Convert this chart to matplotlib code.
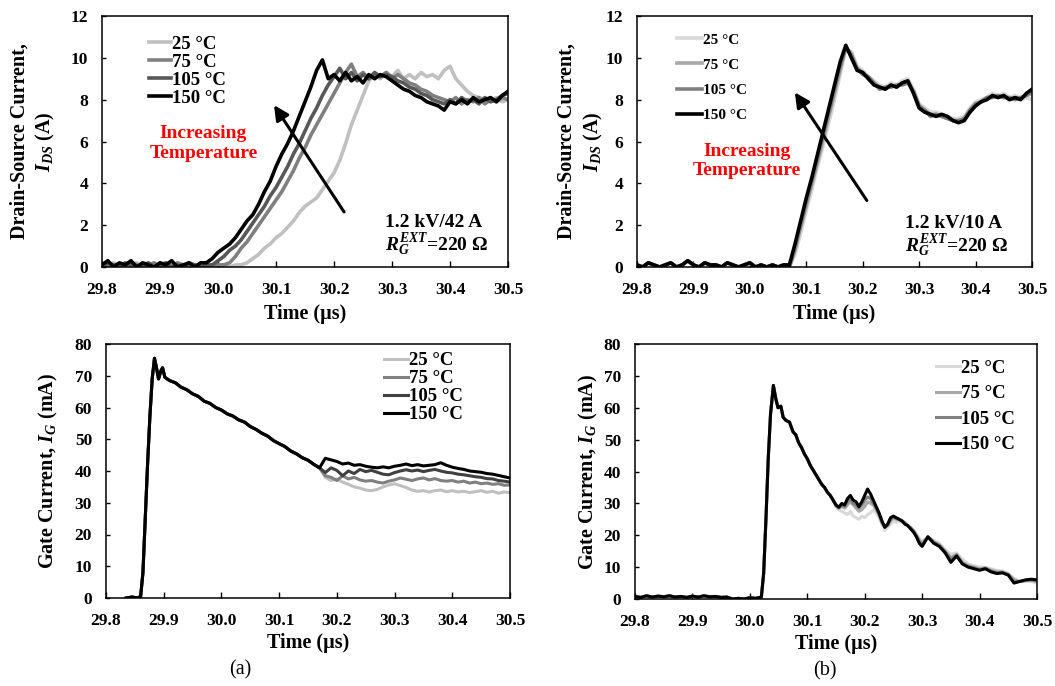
import numpy as np
import matplotlib
matplotlib.use("Agg")
import matplotlib.pyplot as plt

plt.rcParams['font.family'] = ['Liberation Serif', 'DejaVu Serif']
plt.rcParams['font.weight'] = 'bold'
plt.rcParams['axes.labelweight'] = 'bold'
plt.rcParams['mathtext.fontset'] = 'custom'
plt.rcParams['mathtext.rm'] = 'Liberation Serif:bold'
plt.rcParams['mathtext.it'] = 'Liberation Serif:italic:bold'
plt.rcParams['mathtext.bf'] = 'Liberation Serif:bold'

temps = ['25 °C', '75 °C', '105 °C', '150 °C']
xticks = [29.8, 29.9, 30.0, 30.1, 30.2, 30.3, 30.4, 30.5]

# scope sample clock, 10 ns steps
t_ids = np.linspace(29.8, 30.5, 71)

# (a) drain-source current, 1.2 kV / 42 A
ids_a_25 = [0.1, 0.0, 0.2, 0.1, 0.0, 0.1, 0.2, 0.0, 0.1, 0.0, 0.2, 0.0, 0.1, 0.1, 0.0, 0.2, 0.0, 0.1,
            0.0, 0.1,
            0.0, 0.1, 0.0, 0.1, 0.1, 0.2, 0.4, 0.6, 0.9, 1.1,
            1.4, 1.6, 1.9, 2.2, 2.6, 2.9, 3.1, 3.3, 3.7, 4.1,
            4.5, 5.1, 5.9, 6.8, 7.5, 8.2, 8.9, 9.2, 9.0, 9.3,
            9.1, 9.4, 9.0, 9.2, 9.0, 9.3, 9.1, 9.2, 9.0, 9.4,
            9.6, 9.0, 8.7, 8.4, 8.2, 8.1, 8.0, 7.9, 8.1, 7.9, 8.0]
ids_a_75 = [0.2, 0.0, 0.1, 0.1, 0.0, 0.2, 0.1, 0.0, 0.1, 0.2, 0.0, 0.1, 0.0, 0.2, 0.1, 0.0, 0.1, 0.0,
            0.0, 0.1,
            0.1, 0.1, 0.2, 0.5, 0.9, 1.2, 1.6, 2.0, 2.4, 2.8,
            3.2, 3.6, 4.1, 4.6, 5.2, 5.7, 6.3, 6.8, 7.3, 7.8,
            8.3, 8.8, 9.3, 9.7, 9.1, 9.3, 9.0, 9.2, 9.1, 9.3,
            9.0, 9.2, 9.0, 8.8, 8.7, 8.5, 8.4, 8.2, 8.1, 8.0,
            7.9, 8.1, 7.8, 8.0, 7.9, 8.1, 7.8, 8.0, 7.9, 8.1, 8.0]
ids_a_105 = [0.0, 0.2, 0.1, 0.0, 0.2, 0.1, 0.0, 0.1, 0.2, 0.0, 0.1, 0.2, 0.0, 0.1, 0.0, 0.2, 0.1, 0.0,
             0.1, 0.1,
             0.3, 0.5, 0.8, 1.0, 1.3, 1.7, 2.1, 2.5, 2.9, 3.4,
             3.8, 4.3, 4.8, 5.4, 5.9, 6.5, 7.1, 7.6, 8.2, 8.7,
             9.1, 9.5, 9.0, 9.3, 8.9, 9.2, 9.0, 9.3, 9.1, 9.2,
             9.1, 8.9, 8.8, 8.6, 8.5, 8.3, 8.2, 8.0, 7.9, 7.8,
             8.0, 7.8, 8.1, 7.9, 8.0, 7.8, 8.1, 7.9, 8.0, 8.2, 8.3]
ids_a_150 = [0.1, 0.3, 0.0, 0.2, 0.1, 0.3, 0.0, 0.2, 0.1, 0.0, 0.2, 0.1, 0.3, 0.0, 0.1, 0.2, 0.0, 0.2,
             0.2, 0.4,
             0.7, 0.9, 1.1, 1.4, 1.8, 2.2, 2.5, 3.0, 3.6, 4.1,
             4.8, 5.4, 5.9, 6.5, 7.2, 7.9, 8.6, 9.4, 9.9, 9.0,
             9.2, 8.9, 9.3, 8.9, 9.1, 8.8, 9.2, 9.0, 9.2, 9.1,
             8.9, 8.7, 8.5, 8.4, 8.2, 8.1, 7.9, 7.8, 7.7, 7.5,
             7.9, 7.8, 8.0, 7.8, 8.1, 7.9, 8.0, 8.1, 7.9, 8.2, 8.4]

# (b) drain-source current, 1.2 kV / 10 A
ids_b_base = [0.1, 0.0, 0.2, 0.1, 0.0, 0.1, 0.2, 0.0, 0.1, 0.3, 0.1, 0.0, 0.2, 0.1,
              0.1, 0.0, 0.2, 0.1, 0.0, 0.1, 0.2, 0.0, 0.1, 0.0, 0.1, 0.0, 0.1]
ids_b_25 = [0.0, 0.6, 1.6,
            2.7, 3.7, 4.8, 5.8, 6.9, 8.0, 9.2, 10.4, 10.3, 9.6,
            9.4, 9.1, 8.9, 8.7, 8.6, 8.8, 8.7, 8.9, 9.0, 8.5,
            7.8, 7.6, 7.4, 7.4, 7.3, 7.2, 7.1, 7.1, 7.2, 7.6,
            7.9, 8.0, 8.1, 8.3, 8.2, 8.3, 8.1, 8.2, 8.0, 8.1, 8.0]
ids_b_75 = [0.0, 0.8, 1.9,
            2.9, 4.0, 5.0, 6.1, 7.2, 8.3, 9.4, 10.5, 10.2, 9.5,
            9.3, 9.0, 8.8, 8.6, 8.5, 8.7, 8.6, 8.8, 8.9, 8.4,
            7.7, 7.5, 7.3, 7.3, 7.2, 7.1, 7.0, 6.9, 7.1, 7.5,
            7.8, 7.9, 8.1, 8.2, 8.1, 8.2, 8.0, 8.1, 8.1, 8.2, 8.3]
ids_b_105 = [0.0, 0.9, 2.0,
             3.1, 4.1, 5.2, 6.3, 7.4, 8.5, 9.6, 10.5, 10.1, 9.5,
             9.2, 9.1, 8.8, 8.5, 8.6, 8.6, 8.7, 8.7, 8.8, 8.4,
             7.7, 7.5, 7.2, 7.3, 7.2, 7.1, 7.0, 7.0, 7.1, 7.5,
             7.8, 7.9, 8.1, 8.1, 8.2, 8.1, 8.1, 8.0, 8.1, 8.2, 8.4]
ids_b_150 = [0.1, 1.1, 2.2,
             3.3, 4.3, 5.4, 6.5, 7.6, 8.7, 9.8, 10.6, 10.0, 9.4,
             9.3, 9.0, 8.7, 8.6, 8.5, 8.7, 8.6, 8.8, 8.9, 8.3,
             7.6, 7.4, 7.3, 7.2, 7.3, 7.2, 7.0, 6.9, 7.0, 7.4,
             7.7, 7.9, 8.0, 8.2, 8.1, 8.2, 8.0, 8.1, 8.0, 8.3, 8.5]

# (a) gate current: common turn-on transient, then per-temperature tails
t_ig_a_head = [29.835, 29.845, 29.855, 29.860, 29.864, 29.868, 29.872, 29.876, 29.880, 29.884,
               29.888, 29.891, 29.895, 29.898, 29.902,
               29.91, 29.92, 29.93, 29.94, 29.95, 29.96, 29.97, 29.98, 29.99, 30.00,
               30.01, 30.02, 30.03, 30.04, 30.05, 30.06, 30.07, 30.08, 30.09, 30.10,
               30.11, 30.12, 30.13, 30.14, 30.15, 30.16, 30.17]
ig_a_head = [0.0, 0.3, 0.0, 0.5, 8.0, 25.0, 42.0, 57.0, 69.0, 75.5,
             72.0, 69.0, 71.5, 72.5, 69.5,
             68.5, 67.8, 66.4, 65.6, 64.3, 63.5, 62.0, 61.3, 60.0, 59.2,
             58.0, 57.3, 56.1, 55.4, 54.0, 53.1, 51.9, 51.0, 49.6, 48.6,
             47.7, 46.3, 45.4, 44.2, 43.4, 42.1, 41.0]
t_ig_a_tail = np.linspace(30.18, 30.50, 33)
ig_a_25 = [38.0, 37.0, 37.5, 36.5, 35.8, 35.0, 34.6, 34.0, 33.8, 34.2, 35.0, 35.6, 36.0, 35.4, 34.8,
           34.0, 33.6, 33.8, 33.4, 33.8, 34.0, 33.5, 33.8, 33.4, 33.6, 33.2, 33.5, 33.8, 33.3, 33.6,
           33.0, 33.4, 33.2]
ig_a_75 = [38.5, 38.0, 37.0, 38.5, 37.5, 38.0, 37.2, 36.8, 37.0, 36.5, 36.2, 36.8, 37.2, 37.8, 37.4,
           37.0, 37.5, 37.8, 37.2, 37.6, 37.0, 36.8, 37.0, 36.5, 36.8, 36.2, 36.5, 36.0, 36.2, 35.8,
           36.0, 35.5, 35.6]
ig_a_105 = [39.5, 41.0, 40.2, 38.5, 40.0, 39.2, 40.5, 39.8, 40.2, 39.6, 39.0, 38.8, 39.5, 40.0, 40.4,
            40.0, 40.3, 39.8, 40.2, 40.5, 40.0, 39.6, 39.4, 39.0, 38.8, 38.5, 38.2, 38.0, 37.6, 37.5,
            37.0, 36.8, 36.5]
ig_a_150 = [44.0, 43.5, 43.0, 42.2, 42.5, 41.8, 42.0, 41.5, 41.2, 41.0, 41.3, 41.0, 41.5, 41.8, 42.2,
            41.7, 42.0, 41.6, 41.8, 42.0, 42.6, 41.8, 41.2, 40.8, 40.5, 40.0, 39.8, 39.6, 39.2, 39.0,
            38.6, 38.2, 37.8]

# (b) gate current
t_ig_b_head = [29.80, 29.81, 29.82, 29.83, 29.84, 29.85, 29.86, 29.87, 29.88, 29.89,
               29.90, 29.91, 29.92, 29.93, 29.94, 29.95, 29.96, 29.97, 29.98, 29.99,
               30.00, 30.01, 30.02,
               30.024, 30.028, 30.032, 30.036, 30.041, 30.045, 30.049, 30.054, 30.058, 30.063,
               30.069, 30.075, 30.080, 30.085, 30.090, 30.095, 30.100, 30.105, 30.110, 30.115,
               30.120, 30.125, 30.130, 30.135, 30.140, 30.145]
ig_b_head = [0.8, 0.5, 1.0, 0.6, 0.9, 0.7, 1.0, 0.6, 0.8, 0.5,
             0.9, 0.6, 1.0, 0.7, 0.8, 0.5, 0.6, 0.0, 0.2, 0.0,
             0.4, 0.2, 0.6,
             8.0, 25.0, 44.0, 58.0, 67.0, 63.0, 60.0, 60.5, 57.0, 56.0,
             55.5, 52.5, 51.5, 49.0, 47.5, 45.5, 44.0, 42.0, 40.5, 39.0,
             37.5, 36.0, 35.0, 33.5, 32.5, 31.0]
t_ig_b_tail = [30.150, 30.155, 30.160, 30.165, 30.170, 30.175, 30.180, 30.185, 30.190, 30.195,
               30.200, 30.205, 30.210, 30.215, 30.220, 30.225, 30.230, 30.235, 30.240, 30.245,
               30.250, 30.255, 30.260, 30.265, 30.270, 30.275, 30.280, 30.285, 30.290, 30.295,
               30.300,
               30.31, 30.32, 30.33, 30.34, 30.35, 30.36, 30.37, 30.38, 30.39, 30.40,
               30.41, 30.42, 30.43, 30.44, 30.45, 30.46, 30.47, 30.48, 30.49, 30.50]
ig_b_25 = [29.0, 28.0, 27.5, 27.0, 26.5, 27.5, 26.0, 25.5, 25.0, 26.0,
           25.5, 26.5, 27.0, 28.0, 27.0, 25.5, 23.5, 21.5, 22.5, 23.5,
           24.5, 24.0, 24.5, 24.0, 23.5, 23.0, 22.0, 21.5, 20.5, 19.0,
           18.0,
           19.5, 18.5, 17.5, 15.5, 14.0, 14.5, 12.5, 11.0, 10.5, 10.0,
           10.0, 9.5, 9.0, 8.8, 8.0, 6.5, 5.5, 5.5, 5.5, 5.0]
ig_b_75 = [29.2, 28.5, 29.0, 28.5, 29.5, 30.5, 29.5, 28.5, 27.5, 28.0,
           29.0, 30.5, 30.0, 29.5, 28.0, 26.5, 24.0, 22.5, 23.0, 24.5,
           25.5, 25.0, 25.0, 24.5, 24.0, 23.0, 22.5, 21.5, 20.0, 18.5,
           17.5,
           19.5, 18.0, 17.0, 15.0, 13.0, 14.0, 11.5, 10.5, 10.0, 9.5,
           9.8, 9.0, 8.5, 8.5, 7.8, 6.0, 5.5, 5.8, 5.8, 5.5]
ig_b_105 = [29.3, 28.6, 29.5, 29.0, 30.5, 31.5, 30.0, 29.5, 28.5, 29.5,
            31.0, 32.0, 31.5, 30.0, 28.5, 26.5, 24.0, 22.5, 23.2, 25.0,
            25.8, 25.2, 25.0, 24.5, 23.8, 23.0, 22.2, 21.2, 19.8, 18.0,
            17.0,
            19.5, 17.8, 16.8, 14.8, 12.5, 13.8, 11.2, 10.2, 9.8, 9.2,
            9.6, 8.8, 8.2, 8.3, 7.6, 5.5, 5.5, 5.9, 6.0, 5.8]
ig_b_150 = [29.5, 28.8, 30.0, 29.5, 31.5, 32.5, 31.0, 30.5, 29.0, 30.5,
            32.5, 34.5, 33.0, 31.0, 29.0, 27.0, 24.5, 22.5, 23.5, 25.5,
            26.0, 25.5, 25.0, 24.5, 23.5, 23.0, 22.0, 21.0, 19.5, 17.5,
            16.5,
            19.5, 17.5, 16.5, 14.5, 11.5, 13.5, 11.0, 10.0, 9.5, 9.0,
            9.5, 8.5, 8.0, 8.2, 7.5, 5.0, 5.5, 6.0, 6.2, 6.0]

W, H = 1055, 686
fig = plt.figure(figsize=(W / 100, H / 100), dpi=100)


def box(l, t, r, b):
    return [l / W, 1 - b / H, (r - l) / W, (b - t) / H]


ax_tl = fig.add_axes(box(102, 16, 508, 267))
ax_tr = fig.add_axes(box(637, 16, 1032, 267))
ax_bl = fig.add_axes(box(106, 344, 510, 598))
ax_br = fig.add_axes(box(635, 344, 1037, 599))


def style(ax, ymax, ystep, lpad):
    ax.set_xlim(29.8, 30.5)
    ax.set_xticks(xticks)
    ax.set_xticklabels(['%.1f' % x for x in xticks])
    ax.set_ylim(0, ymax)
    ax.set_yticks(np.arange(0, ymax + 1, ystep))
    ax.tick_params(axis='x', direction='in', length=4, width=1, pad=11, labelsize=12.5)
    ax.tick_params(axis='y', direction='in', length=3, width=1, pad=10, labelsize=12.5)
    for s in ax.spines.values():
        s.set_linewidth(1.1)
    ax.set_xlabel('Time (µs)', fontsize=14.5, labelpad=lpad)


cols_a = ['#c0c0c0', '#808080', '#585858', '#000000']
cols_b = ['#d9d9d9', '#a8a8a8', '#808080', '#000000']
cols_bl = ['#c0c0c0', '#808080', '#404040', '#000000']

# drain-source current (a)
for y, c, lab in zip([ids_a_25, ids_a_75, ids_a_105, ids_a_150], cols_a, temps):
    ax_tl.plot(t_ids, y, color=c, lw=2.6, label=lab)
style(ax_tl, 12, 2, 4)
ax_tl.set_ylabel('Drain-Source Current,\n$I_{DS}$ (A)', fontsize=14.5, linespacing=1.3)
ax_tl.yaxis.set_label_coords(-0.11, 0.5)
ax_tl.legend(loc='upper left', bbox_to_anchor=(0.083, 0.975), frameon=False, fontsize=13.5,
             handlelength=1.2, handletextpad=0.05, labelspacing=0.05, borderpad=0.2)
ax_tl.text(29.975, 5.9, 'Increasing\nTemperature', color='red', fontsize=14, ha='center',
           va='center', linespacing=1.2)
ax_tl.annotate('', xy=(30.094, 7.85), xytext=(30.220, 2.52),
               arrowprops=dict(arrowstyle='-|>', lw=2.2, color='k', mutation_scale=22))
ax_tl.text(30.288, 1.91, '1.2 kV/42 A', fontsize=14, va='baseline')
ax_tl.text(30.288, 0.77, '$R_G^{EXT}$=220 Ω', fontsize=14, va='baseline')

# drain-source current (b)
for y, c, lab in zip([ids_b_25, ids_b_75, ids_b_105, ids_b_150], cols_b, temps):
    ax_tr.plot(t_ids, ids_b_base + y, color=c, lw=2.6, label=lab)
style(ax_tr, 12, 2, 4)
ax_tr.set_ylabel('Drain-Source Current,\n$I_{DS}$ (A)', fontsize=14.5, linespacing=1.3)
ax_tr.yaxis.set_label_coords(-0.082, 0.5)
ax_tr.legend(loc='upper left', bbox_to_anchor=(0.075, 0.975), frameon=False, fontsize=11,
             handlelength=1.6, handletextpad=0.05, labelspacing=0.75, borderpad=0.2)
ax_tr.text(29.995, 5.07, 'Increasing\nTemperature', color='red', fontsize=14, ha='center',
           va='center', linespacing=1.2)
ax_tr.annotate('', xy=(30.077, 8.46), xytext=(30.210, 3.07),
               arrowprops=dict(arrowstyle='-|>', lw=2.2, color='k', mutation_scale=22))
ax_tr.text(30.275, 1.87, '1.2 kV/10 A', fontsize=14, va='baseline')
ax_tr.text(30.275, 0.72, '$R_G^{EXT}$=220 Ω', fontsize=14, va='baseline')

# gate current (a)
for y, c, lab in zip([ig_a_25, ig_a_75, ig_a_105, ig_a_150], cols_bl, temps):
    ax_bl.plot(list(t_ig_a_head) + list(t_ig_a_tail), ig_a_head + y, color=c, lw=2.2, label=lab)
style(ax_bl, 80, 10, 3)
ax_bl.set_ylabel('Gate Current, $I_G$ (mA)', fontsize=14.5)
ax_bl.yaxis.set_label_coords(-0.115, 0.5)
ax_bl.legend(loc='upper left', bbox_to_anchor=(0.655, 1.02), frameon=False, fontsize=13.5,
             handlelength=1.3, handletextpad=0.05, labelspacing=0.05, borderpad=0.2)

# gate current (b)
for y, c, lab in zip([ig_b_25, ig_b_75, ig_b_105, ig_b_150], cols_b, temps):
    ax_br.plot(t_ig_b_head + t_ig_b_tail, ig_b_head + y, color=c, lw=2.2, label=lab)
style(ax_br, 80, 10, 3)
ax_br.set_ylabel('Gate Current, $I_G$ (mA)', fontsize=14.5)
ax_br.yaxis.set_label_coords(-0.088, 0.5)
ax_br.legend(loc='upper left', bbox_to_anchor=(0.715, 0.99), frameon=False, fontsize=13.5,
             handlelength=1.3, handletextpad=0.05, labelspacing=0.45, borderpad=0.2)

fig.text(240 / W, 1 - 670 / H, '(a)', fontsize=14.5, fontweight='normal', ha='center', va='center')
fig.text(825 / W, 1 - 671 / H, '(b)', fontsize=14.5, fontweight='normal', ha='center', va='center')

fig.savefig('out.png', dpi=100)
